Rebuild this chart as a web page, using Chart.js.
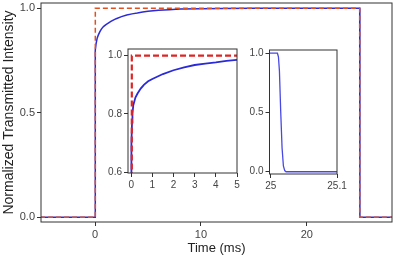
<!DOCTYPE html>
<html>
<head>
<meta charset="utf-8">
<script src="https://cdn.jsdelivr.net/npm/chart.js@4.4.0/dist/chart.umd.min.js"></script>
<style>
html, body { margin: 0; padding: 0; background: #fff; }
#wrap { position: relative; width: 395px; height: 261px; }
#wrap canvas { position: absolute; left: 0; top: 0; }
</style>
</head>
<body>
<div id="wrap">
<canvas id="main" width="395" height="261"></canvas>
<canvas id="inset1" width="395" height="261"></canvas>
<canvas id="inset2" width="395" height="261"></canvas>
</div>
<script>
// measured transmitted intensity (blue), time in ms
const timeMs = [-5.2, -0.01, 0, 0.005, 0.01, 0.02, 0.04, 0.06, 0.1, 0.2, 0.3, 0.45, 0.6, 0.8, 1, 1.5, 2, 2.5, 3, 3.5, 4, 4.5, 5, 6, 7, 8, 10, 12, 15, 20, 25,
    25.010, 25.0115, 25.013, 25.015, 25.017, 25.019, 25.021, 25.023, 28.2];
const intensity = [0, 0, 0, 0.4, 0.6, 0.7, 0.77, 0.8, 0.83, 0.856, 0.87, 0.887, 0.9, 0.912, 0.92, 0.937, 0.95, 0.96, 0.968, 0.973, 0.977, 0.982, 0.986, 0.99, 0.993, 0.996, 0.998, 0.999, 1, 1, 1,
    1, 0.97, 0.85, 0.5, 0.2, 0.05, 0.01, 0, 0];

// applied pulse (red dashed)
const pulseTime = [-5.2, 0.03, 0.03, 25, 25, 28.2];
const pulseLevel = [0, 0, 1, 1, 0, 0];

// tick values
const mainXTicks = [0, 10, 20];
const mainYTicks = [0, 0.5, 1];
const inset1XTicks = [0, 1, 2, 3, 4, 5];
const inset1YTicks = [0.6, 0.8, 1.0];
const inset2XTicks = [25, 25.1];
const inset2YTicks = [0, 0.5, 1];

const axisColor = '#333';
const labelColor = '#444';
const fontFamily = "'Liberation Sans', Arial, sans-serif";

function pts(xs, ys) {
    return xs.map((x, i) => ({ x: x, y: ys[i] }));
}

// white plot background + full box around the plot area
const boxPlugin = {
    id: 'box',
    beforeDraw(chart) {
        const a = chart.chartArea, ctx = chart.ctx;
        ctx.save();
        ctx.fillStyle = '#fff';
        ctx.fillRect(a.left, a.top, a.width, a.height);
        ctx.restore();
    },
    afterDraw(chart) {
        const a = chart.chartArea, ctx = chart.ctx;
        ctx.save();
        ctx.strokeStyle = axisColor;
        ctx.lineWidth = 1;
        ctx.strokeRect(a.left, a.top, a.width, a.height);
        ctx.restore();
    }
};

function axis(o) {
    return {
        type: 'linear',
        min: o.min,
        max: o.max,
        afterBuildTicks: s => { s.ticks = o.ticks.map(v => ({ value: v })); },
        afterFit: s => {
            if (o.width != null) s.width = o.width;
            if (o.height != null) s.height = o.height;
            s.paddingTop = s.paddingBottom = s.paddingLeft = s.paddingRight = 0;
        },
        grid: { display: true, drawOnChartArea: false, drawTicks: true, tickLength: 4, tickWidth: 1, tickColor: axisColor },
        border: { display: false },
        ticks: {
            color: labelColor,
            font: { family: fontFamily, size: o.size },
            padding: 2,
            maxRotation: 0,
            autoSkip: false,
            callback: o.fmt
        },
        title: o.title
            ? { display: true, text: o.title, color: '#222', font: { family: fontFamily, size: o.titleSize }, padding: o.titlePad }
            : { display: false }
    };
}

function makeChart(id, datasets, padding, xOpts, yOpts) {
    return new Chart(document.getElementById(id).getContext('2d'), {
        type: 'line',
        data: { datasets: datasets },
        options: {
            responsive: false,
            animation: false,
            layout: { padding: padding },
            plugins: { legend: { display: false }, tooltip: { enabled: false } },
            elements: { point: { radius: 0 }, line: { tension: 0 } },
            scales: { x: axis(xOpts), y: axis(yOpts) }
        },
        plugins: [boxPlugin]
    });
}

const fmt1 = v => v.toFixed(1);

// main chart: plot area 41..392 x 3..222
makeChart('main', [
    { data: pts(pulseTime, pulseLevel), borderColor: '#e2501e', borderWidth: 1.5, borderDash: [5, 3] },
    { data: pts(timeMs, intensity), borderColor: '#2a2ad8', borderWidth: 1.5 }
], { left: 0, right: 3, top: 3, bottom: 0 },
    { min: -5.1, max: 28.05, ticks: mainXTicks, size: 11, height: 39, fmt: v => String(v),
      title: 'Time (ms)', titleSize: 13, titlePad: { top: 0, bottom: 5 } },
    { min: -0.0225, max: 1.025, ticks: mainYTicks, size: 11, width: 41, fmt: fmt1,
      title: 'Normalized Transmitted Intensity', titleSize: 14, titlePad: { top: 1, bottom: 0 } });

// left inset: rise, plot area 128..237 x 49..173
makeChart('inset1', [
    { data: pts(pulseTime, pulseLevel), borderColor: '#e02424', borderWidth: 2.2, borderDash: [6, 3] },
    { data: pts(timeMs, intensity), borderColor: '#2a2ad8', borderWidth: 1.8 }
], { left: 98, right: 158, top: 49, bottom: 68 },
    { min: -0.15, max: 5, ticks: inset1XTicks, size: 10, height: 20, fmt: v => String(v) },
    { min: 0.597, max: 1.023, ticks: inset1YTicks, size: 10, width: 30, fmt: fmt1 });

// right inset: fall, plot area 269.5..337 x 50..174
makeChart('inset2', [
    { data: pts(timeMs, intensity), borderColor: '#4848e6', borderWidth: 1.3 }
], { left: 239.5, right: 58, top: 50, bottom: 67 },
    { min: 24.998, max: 25.1, ticks: inset2XTicks, size: 10, height: 20, fmt: v => String(Math.round(v * 10) / 10) },
    { min: -0.019, max: 1.027, ticks: inset2YTicks, size: 10, width: 30, fmt: fmt1 });
</script>
</body>
</html>
